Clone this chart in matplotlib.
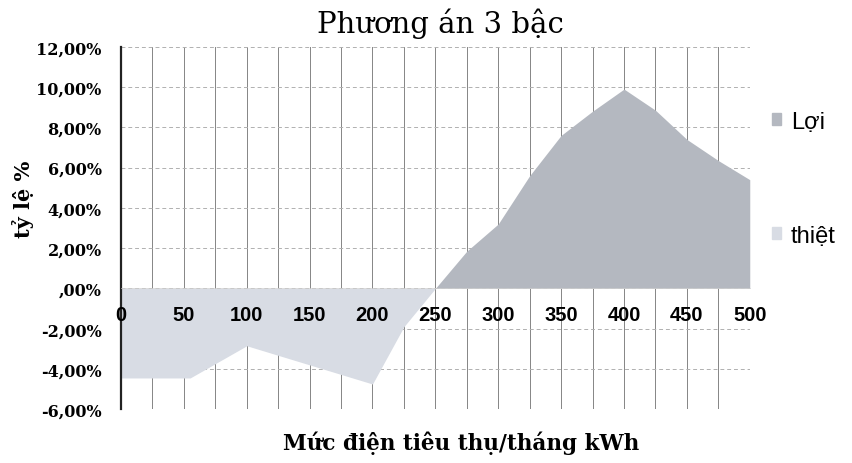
import matplotlib
matplotlib.use('Agg')
import matplotlib.pyplot as plt
import matplotlib.patches as mpatches
from matplotlib.ticker import FuncFormatter, MultipleLocator
import numpy as np

# values (percent)
kwh_loi = [250, 275, 300, 325, 350, 375, 400, 425, 450, 475, 500]
loi = [0, 1.85, 3.2, 5.6, 7.6, 8.8, 9.9, 8.85, 7.4, 6.35, 5.4]
kwh_thiet = [0, 55, 100, 200, 225, 250]
thiet = [-4.45, -4.45, -2.85, -4.75, -1.9, 0]
x_ticks = [0, 50, 100, 150, 200, 250, 300, 350, 400, 450, 500]
y_ticks = [-6, -4, -2, 0, 2, 4, 6, 8, 10, 12]

col_loi = '#b4b8c0'
col_thiet = '#d8dce4'


def pct(v, pos):
    if v == 0:
        return ',00%'
    return ('%.2f%%' % v).replace('.', ',')


fig = plt.figure(figsize=(8.52, 4.64), dpi=100)
ax = fig.add_axes([0.142, 0.116, 0.738, 0.781])

ax.fill_between(kwh_loi, 0, loi, color=col_loi, lw=0, zorder=2)
ax.fill_between(kwh_thiet, 0, thiet, color=col_thiet, lw=0, zorder=2)

ax.set_xlim(0, 500)
ax.set_ylim(-6, 12)
ax.set_axisbelow(True)

# grid: solid verticals every 25, dashed horizontals every 2%
ax.xaxis.set_minor_locator(MultipleLocator(25))
ax.set_xticks(x_ticks)
ax.set_xticklabels([])
ax.set_yticks(y_ticks)
ax.grid(True, axis='x', which='both', color='#858585', lw=0.7, ls='-')
ax.grid(True, axis='y', which='major', color='#b0b0b0', lw=0.7, ls=(0, (4, 3)))

for s in ['top', 'right']:
    ax.spines[s].set_visible(False)
ax.spines['left'].set_color('#222222')
ax.spines['left'].set_linewidth(1.6)
ax.spines['left'].set_zorder(3)
ax.spines['bottom'].set_position(('data', 0))
ax.spines['bottom'].set_color('#d0d0d0')
ax.spines['bottom'].set_linewidth(0.5)
ax.spines['bottom'].set_zorder(3)

# x tick labels sit on top of the filled areas
ax.tick_params(axis='x', which='both', length=0)
for t in x_ticks:
    ax.annotate(str(t), xy=(t, 0), xycoords='data', xytext=(0, -18.5),
                textcoords='offset points', ha='center', va='center',
                family='Liberation Sans', fontweight='bold', fontsize=14.5,
                zorder=5)

ax.tick_params(axis='y', length=0, pad=14)
ax.yaxis.set_major_formatter(FuncFormatter(pct))
for lab in ax.get_yticklabels():
    lab.set_fontfamily('DejaVu Serif')
    lab.set_fontweight('bold')
    lab.set_fontsize(11.5)

fig.text(0.517, 0.948, 'Phương án 3 bậc', ha='center', va='center',
         family='DejaVu Serif', fontsize=21)
fig.text(0.541, 0.045, 'Mức điện tiêu thụ/tháng kWh', ha='center', va='center',
         family='DejaVu Serif', fontweight='bold', fontsize=15.5)
fig.text(0.027, 0.57, 'tỷ lệ %', ha='center', va='center', rotation=90,
         family='DejaVu Serif', fontweight='bold', fontsize=15)

patches = [mpatches.Patch(color=col_loi, label='Lợi'),
           mpatches.Patch(color=col_thiet, label='thiệt')]
ax.legend(handles=patches, loc='upper left', bbox_to_anchor=(1.02, 0.85),
          frameon=False, prop={'family': 'Liberation Sans', 'size': 17},
          handlelength=0.4, handleheight=0.4, handletextpad=0.4,
          labelspacing=3.9, borderaxespad=0)

fig.savefig('out.png', dpi=100)
